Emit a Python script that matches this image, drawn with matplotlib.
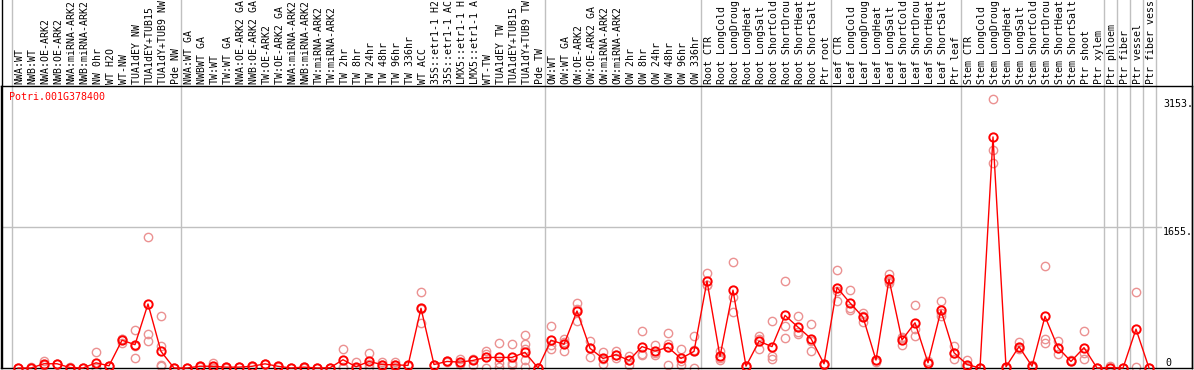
import matplotlib
matplotlib.use('Agg')
import matplotlib.pyplot as plt
import matplotlib.transforms as mtransforms
from matplotlib.lines import Line2D
import numpy as np

# ---------------- data ----------------
gene = "Potri.001G378400"

labels = [
    "NWA:WT", "NWB:WT", "NWA:OE-ARK2", "NWB:OE-ARK2", "NWA:miRNA-ARK2", "NWB:miRNA-ARK2",
    "NW 0hr", "WT H2O", "WT-NW", "TUA1dEY NW", "TUA1dEY+TUB15", "TUA1dY+TUB9 NW", "Pde NW",
    "NWA:WT GA", "NWBWT GA", "TW:WT", "TW:WT GA", "NWA:OE-ARK2 GA", "NWB:OE-ARK2 GA",
    "TW:OE-ARK2", "TW:OE-ARK2 GA", "NWA:miRNA-ARK2", "NWB:miRNA-ARK2", "TW:miRNA-ARK2",
    "TW:miRNA-ARK2", "TW 2hr", "TW 8hr", "TW 24hr", "TW 48hr", "TW 96hr", "TW 336hr",
    "WT ACC", "35S::etr1-1 H2", "35S::etr1-1 AC", "LMX5::etr1-1 H", "LMX5::etr1-1 A",
    "WT-TW", "TUA1dEY TW", "TUA1dEY+TUB15", "TUA1dY+TUB9 TW", "Pde TW",
    "OW:WT", "OW:WT GA", "OW:OE-ARK2", "OW:OE-ARK2 GA", "OW:miRNA-ARK2", "OW:miRNA-ARK2",
    "OW 2hr", "OW 8hr", "OW 24hr", "OW 48hr", "OW 96hr", "OW 336hr",
    "Root CTR", "Root LongCold", "Root LongDroug", "Root LongHeat", "Root LongSalt",
    "Root ShortCold", "Root ShortDrou", "Root ShortHeat", "Root ShortSalt", "Ptr root",
    "Leaf CTR", "Leaf LongCold", "Leaf LongDroug", "Leaf LongHeat", "Leaf LongSalt",
    "Leaf ShortCold", "Leaf ShortDrou", "Leaf ShortHeat", "Leaf ShortSalt", "Ptr leaf",
    "Stem CTR", "Stem LongCold", "Stem LongDroug", "Stem LongHeat", "Stem LongSalt",
    "Stem ShortCold", "Stem ShortDrou", "Stem ShortHeat", "Stem ShortSalt", "Ptr shoot",
    "Ptr xylem", "Ptr phloem", "Ptr fiber", "Ptr vessel", "Ptr fiber vess",
]

group_sizes = [13, 28, 12, 10, 10, 11, 1, 1, 1, 1]

means = [
    0, 0, 50, 50, 5, 0, 61, 26, 326, 274, 752, 195, 0,
    0, 21, 20, 10, 10, 20, 49, 20, 0, 10, 0, 3, 97, 15, 77, 40, 38, 30,
    701, 41, 77, 69, 89, 124, 124, 124, 184, 0,
    326, 278, 669, 231, 112, 156, 89, 251, 199, 243, 112, 195,
    1020, 136, 914, 21, 314, 251, 618, 480, 345, 49,
    945, 764, 598, 93, 1040, 329, 531, 61, 677, 180,
    41, 0, 2713, 14, 251, 21, 606, 239, 77, 239, 0,
    5, 0, 456, 0,
]

replicates = [
    [0, 5], [0, 10], [80, 40, 30], [50, 45], [0, 10], [0, 5], [183, 0, 5], [26, 20],
    [298, 340, 340], [444, 116, 262], [1533, 405, 314], [606, 254, 35, 20], [0, 0],
    [0, 5], [21, 15], [53, 5, 0], [10, 5], [10, 10], [20, 15], [49, 45], [20, 15],
    [0, 0], [10, 5], [0, 0], [3, 0], [227, 10, 0], [69, 5, 0], [172, 10, 50],
    [75, 10, 40], [70, 10, 30], [30, 25],
    [890, 523, 690], [41, 30], [77, 70], [109, 50, 50], [110, 41], [195, 0, 170],
    [294, 60, 10], [278, 60, 30], [389, 278, 227, 89, 10], [0, 0],
    [488, 219, 270], [337, 300, 200], [764, 554, 690], [322, 128, 240], [187, 49, 100],
    [195, 120, 150], [136, 41, 90], [440, 150, 160], [266, 150, 180], [408, 278, 38],
    [219, 38, 80], [373, 0, 210],
    [1115, 977, 970], [195, 89, 120], [1245, 838, 653], [21, 10], [373, 227, 340],
    [550, 136, 104], [1020, 491, 357], [614, 420, 400], [515, 199, 320], [49, 30],
    [1151, 787, 900], [914, 681, 700], [641, 542, 610], [93, 70], [1099, 1020, 1000],
    [365, 270, 350], [736, 452, 373], [61, 80], [787, 610, 640], [258, 101, 180],
    [97, 20, 10], [0, 0], [3153, 2560, 2409], [14, 0], [306, 230, 220], [40, 10],
    [1198, 341, 294], [322, 163, 230], [77, 90], [432, 109, 180], [0, 0],
    [20, 0], [0, 0], [890, 14], [0, 0],
]

# ---------------- layout ----------------
W, H = 1194, 370
fig = plt.figure(figsize=(W / 100, H / 100), dpi=100)
ax_l, ax_r, ax_t, ax_b = 1, 1192, 86, 368
ax = fig.add_axes([ax_l / W, (H - ax_b) / H, (ax_r - ax_l) / W, (ax_b - ax_t) / H])

pitch, first_px = 13.0, 18.0
ax.set_xlim((ax_l - first_px) / pitch, (ax_r - first_px) / pitch)
ymax = max(max(r) for r in replicates)
ax.set_ylim(0, ymax * 1.05)
ax.set_xticks([])
ax.set_yticks([])
for s in ax.spines.values():
    s.set_linewidth(1.0)
    s.set_color('black')

grid_c = '#c0c0c0'
n = len(labels)
xs = np.arange(n)
ax_h_px = ax_b - ax_t
top_frac = ax_b / ax_h_px  # figure top in axes fraction

# group separators
bounds = np.concatenate([[0], np.cumsum(group_sizes)]) - 0.5
for b in bounds:
    ax.axvline(b, ymin=0, ymax=top_frac, color=grid_c, lw=1.0, clip_on=False, zorder=1)

# frame extensions up through label area
fig.add_artist(Line2D([(ax_l + 0.5) / W] * 2, [(H - ax_b) / H, 1], color='black', lw=1.0))
fig.add_artist(Line2D([(ax_r - 0.5) / W] * 2, [(H - ax_b) / H, 1], color='black', lw=1.0))

# horizontal mid grid line
mid = round(ymax * 1.05 / 2)
ax.plot([ax.get_xlim()[0], (1161 - first_px) / pitch], [mid, mid], color=grid_c, lw=1.0, zorder=1)

mono = 'DejaVu Sans Mono'
fs = 7.1
trans = mtransforms.blended_transform_factory(ax.transData, ax.transAxes)
for i, lab in enumerate(labels):
    ax.text(i + 0.12, 1.0 + 2 / ax_h_px, lab, transform=trans, rotation=90,
            ha='center', va='bottom', fontsize=fs, family=mono, clip_on=False)

# replicates
rep_c = '#eb9191'
for i, reps in enumerate(replicates):
    ax.plot([i] * len(reps), reps, linestyle='none', marker='o', ms=6.0,
            mfc='none', mec=rep_c, mew=1.0, zorder=2, clip_on=False)

# means
ax.plot(xs, means, color='#ff0000', lw=1.0, marker='o', ms=6.0, mfc='none',
        mec='#ff0000', mew=1.4, zorder=3, clip_on=False)

# title
fig.text(9 / W, 1 - 92 / H, gene, color='#ff0000', fontsize=7.2, family=mono,
         ha='left', va='top')

# right value labels
lx = (1163 - first_px) / pitch
ax.text(lx, ymax, f"{ymax}.", fontsize=7.2, family=mono, ha='left', va='top')
ax.text(lx, mid, f"{mid}.", fontsize=7.2, family=mono, ha='left', va='top')
ax.text(lx + 0.15, 0, "0", fontsize=7.2, family=mono, ha='left', va='bottom')

fig.savefig('out.png', dpi=100)
